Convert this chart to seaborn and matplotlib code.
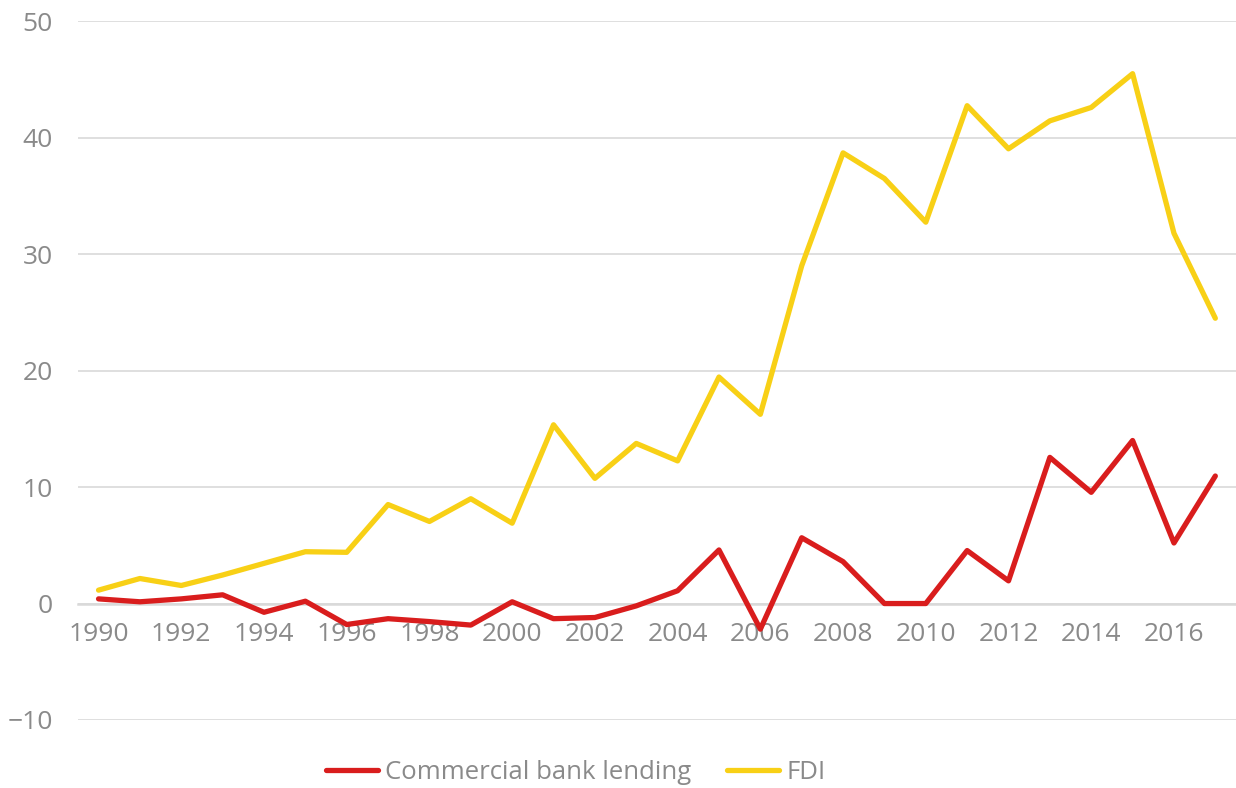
import pandas as pd
import seaborn as sns
import matplotlib.pyplot as plt

# Data
years = list(range(1990, 2018))
bank_lending = [0.4, 0.15, 0.4, 0.75, -0.75, 0.2, -1.8, -1.3, -1.55, -1.85,
                0.15, -1.3, -1.2, -0.2, 1.1, 4.6, -2.2, 5.65, 3.6, 0.0,
                0.0, 4.55, 1.95, 12.55, 9.55, 14.0, 5.2, 10.95]
fdi = [1.15, 2.15, 1.55, 2.45, 3.45, 4.45, 4.4, 8.5, 7.05, 9.0,
       6.9, 15.35, 10.75, 13.75, 12.25, 19.45, 16.25, 29.0, 38.7, 36.5,
       32.75, 42.75, 39.05, 41.45, 42.6, 45.5, 31.8, 24.5]
series_names = ['Commercial bank lending', 'FDI']
colors = ['#d91d1d', '#f8d016']

df = pd.DataFrame({
    'year': years * 2,
    'value': bank_lending + fdi,
    'series': [series_names[0]] * len(years) + [series_names[1]] * len(years),
})

sns.set_style('white')
plt.rcParams['font.family'] = ['Open Sans', 'DejaVu Sans']

fig = plt.figure(figsize=(12.36, 7.88), dpi=100)
ax = fig.add_axes([0.063, 0.0863, 0.937, 0.8867])

sns.lineplot(data=df, x='year', y='value', hue='series', palette=colors,
             linewidth=3.8, ax=ax, legend=False)

# axes styling
ax.set_xlim(1989.5, 2017.5)
ax.set_ylim(-10, 50)
ax.set_yticks(range(-10, 51, 10))
ax.set_xticks(range(1990, 2017, 2))
ax.yaxis.grid(True, color='#d9d9d9', linewidth=1.2)
ax.set_axisbelow(True)
for s in ['top', 'right', 'left']:
    ax.spines[s].set_visible(False)
ax.spines['bottom'].set_position(('data', 0))
ax.spines['bottom'].set_color('#d9d9d9')
ax.spines['bottom'].set_linewidth(1.8)
ax.spines['bottom'].set_zorder(0)
ax.tick_params(axis='both', length=0, labelsize=19, labelcolor='#8a8a8a')
ax.tick_params(axis='y', pad=18)
ax.tick_params(axis='x', pad=13)
ax.set_xlabel('')
ax.set_ylabel('')

handles = [plt.Line2D([], [], color=c, linewidth=3.8) for c in colors]
fig.legend(handles, series_names, loc='center', bbox_to_anchor=(0.466, 0.02),
           ncol=2, frameon=False, fontsize=18.5, labelcolor='#8a8a8a',
           handlelength=2.0, handletextpad=0.3, columnspacing=1.4)

plt.savefig('out.png', dpi=100)
